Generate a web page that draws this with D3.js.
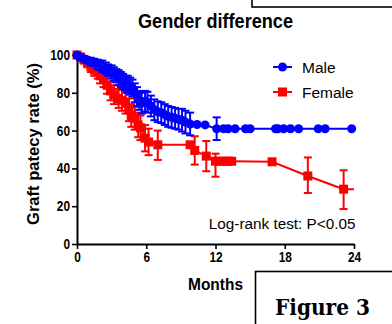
<!DOCTYPE html>
<html>
<head>
<meta charset="utf-8">
<script src="https://cdn.jsdelivr.net/npm/d3@7"></script>
<style>
  html, body { margin: 0; padding: 0; background: #fff; }
  svg { display: block; }
</style>
</head>
<body>
<svg id="chart" width="392" height="324"></svg>
<script>
// ---------------- DATA ----------------
const titleText = "Gender difference";
const xLabel = "Months";
const yLabel = "Graft patecy rate (%)";
const xTicks = [0, 6, 12, 18, 24];
const yTicks = [0, 20, 40, 60, 80, 100];
const seriesNames = ["Male", "Female"];
const annotation = "Log-rank test: P<0.05";
const figureLabel = "Figure 3";

const maleMonths = [0, 0.2, 0.4, 0.6, 0.8, 1.0, 1.2, 1.5, 1.8, 2.0, 2.2, 2.5, 2.7, 3.0, 3.2, 3.4, 3.6, 3.8, 4.0, 4.2, 4.4, 4.6, 4.8, 5.0, 5.2, 5.4, 5.6, 5.9, 6.1, 6.4, 6.7, 7.0, 7.3, 7.6, 7.9, 8.2, 8.5, 8.8, 9.1, 9.4, 9.8, 10.4, 11.1, 12.1, 12.7, 13.1, 13.7, 14.6, 15.0, 17.2, 17.4, 17.9, 18.5, 19.2, 20.9, 21.5, 23.8];
const maleRate   = [100, 99, 98.5, 98, 97.5, 97, 96.5, 96, 95, 94.5, 94, 93, 92, 91, 90, 89, 88, 87, 86, 85, 84.5, 83.5, 82.5, 80, 78, 76, 74.5, 75.5, 75, 73, 71, 70, 69.5, 68.5, 67.5, 67, 66.5, 66, 65.5, 64.5, 63.5, 63.2, 63, 61, 61, 61, 61, 61, 61, 61, 61, 61, 61, 61, 61, 61, 61];
const maleErr    = [0, 0.5, 1, 1, 1.5, 1.5, 2, 2, 2.5, 2.5, 3, 3, 3, 3.5, 3.5, 3.5, 4, 4, 4, 4, 4.5, 4.5, 4.5, 5, 5, 5, 5.5, 5.5, 5.5, 5.5, 5.5, 5.5, 5.5, 5.5, 5.5, 5.5, 5.5, 5.5, 6, 6, 6, 0, 0, 6, 0, 0, 0, 0, 0, 0, 0, 0, 0, 0, 0, 0, 0];

const femaleMonths = [0, 0.3, 0.6, 0.9, 1.2, 1.5, 1.8, 2.0, 2.3, 2.6, 2.9, 3.2, 3.6, 3.9, 4.2, 4.5, 4.7, 5.0, 5.3, 5.5, 5.9, 6.2, 7.0, 9.8, 10.2, 11.2, 12.0, 12.4, 12.8, 13.1, 13.4, 16.9, 20.0, 23.1, 24];
const femaleRate   = [100, 99, 97.5, 96, 94, 92, 91, 89, 87, 84, 81, 79, 77, 76, 74.5, 71, 68, 66.5, 63, 61.5, 56, 54, 52.5, 52.5, 49.5, 46.5, 43.8, 43.8, 43.8, 43.8, 43.8, 43.5, 36, 29, 29];
const femaleLower  = [0, 1, 2, 2.5, 3, 3, 3.5, 4, 4, 4.5, 5, 5, 5, 5.5, 5.5, 6, 6, 6, 6.5, 6.5, 7, 7, 8, 0, 7.5, 8, 8.2, 0, 0, 0, 0, 0, 9, 10.5, 0];
const femaleUpper  = [0, 1, 2, 2.5, 3, 3, 3.5, 4, 4, 4.5, 5, 5, 5, 5.5, 5.5, 6, 6, 6, 6.5, 6.5, 7, 7, 7.5, 0, 7.5, 8, 4, 0, 0, 0, 0, 0, 9.8, 10, 0];
const femaleMarker = [1, 1, 1, 1, 1, 1, 1, 1, 1, 1, 1, 1, 1, 1, 1, 1, 1, 1, 1, 1, 1, 1, 1, 1, 1, 1, 1, 1, 1, 1, 1, 1, 1, 1, 0];

// ---------------- DRAW ----------------
const blue = "#0000ff", red = "#ff0000";
const svg = d3.select("#chart");
const font = "Arial, 'Liberation Sans', Helvetica, sans-serif";

const x = d3.scaleLinear().domain([0, 24]).range([77, 354]);
const y = d3.scaleLinear().domain([0, 100]).range([244, 55]);

const male = maleMonths.map((t, i) => ({ t, v: maleRate[i], lo: maleErr[i], hi: maleErr[i], m: 1 }));
const female = femaleMonths.map((t, i) => ({ t, v: femaleRate[i], lo: femaleLower[i], hi: femaleUpper[i], m: femaleMarker[i] }));

// boxes (figure frame fragments)
svg.append("rect").attr("x", 252).attr("y", -5).attr("width", 150).attr("height", 12)
  .attr("fill", "none").attr("stroke", "#000").attr("stroke-width", 1.6);
svg.append("rect").attr("x", 255.5).attr("y", 271.5).attr("width", 150).attr("height", 70)
  .attr("fill", "#fff").attr("stroke", "#000").attr("stroke-width", 1.6);
svg.append("text").attr("x", 275).attr("y", 315)
  .attr("font-family", "'DejaVu Serif', 'Liberation Serif', serif").attr("font-weight", "bold")
  .attr("font-size", 22).attr("textLength", 95).attr("lengthAdjust", "spacingAndGlyphs")
  .text(figureLabel);

// title
svg.append("text").attr("x", 138).attr("y", 28)
  .attr("font-family", font).attr("font-weight", "bold").attr("font-size", 20)
  .attr("textLength", 155).attr("lengthAdjust", "spacingAndGlyphs")
  .text(titleText);

// axes
const yAxis = d3.axisLeft(y).tickValues(yTicks).tickSize(5).tickSizeOuter(0).tickPadding(2);
const xAxis = d3.axisBottom(x).tickValues(xTicks).tickSize(5).tickSizeOuter(0).tickPadding(3);

const gy = svg.append("g").attr("transform", "translate(77,0)").call(yAxis);
const gx = svg.append("g").attr("transform", "translate(0,244)").call(xAxis);
[gx, gy].forEach(g => {
  g.select(".domain").attr("stroke", "#000").attr("stroke-width", 2);
  g.selectAll(".tick line").attr("stroke", "#000").attr("stroke-width", 1.6);
  g.selectAll(".tick text").attr("fill", "#000").attr("font-family", font)
    .attr("font-weight", "bold").attr("font-size", 14)
    .attr("textLength", d => String(d).length * 6.6).attr("lengthAdjust", "spacingAndGlyphs");
});

// axis labels
svg.append("text").attr("x", 188).attr("y", 290)
  .attr("font-family", font).attr("font-weight", "bold").attr("font-size", 17)
  .attr("textLength", 55).attr("lengthAdjust", "spacingAndGlyphs")
  .text(xLabel);
svg.append("text").attr("transform", "translate(39,225) rotate(-90)")
  .attr("font-family", font).attr("font-weight", "bold").attr("font-size", 16)
  .attr("textLength", 162).attr("lengthAdjust", "spacingAndGlyphs")
  .text(yLabel);

// series drawing
function drawSeries(data, color, shape) {
  const g = svg.append("g");
  const line = d3.line().x(d => x(d.t)).y(d => y(d.v));
  g.append("path").datum(data).attr("d", line).attr("fill", "none")
    .attr("stroke", color).attr("stroke-width", 2);
  const eb = data.filter(d => d.lo > 0 || d.hi > 0);
  const cap = 4;
  eb.forEach(d => {
    const cx = x(d.t), y1 = y(d.v + d.hi), y2 = y(d.v - d.lo);
    g.append("line").attr("x1", cx).attr("x2", cx).attr("y1", y1).attr("y2", y2)
      .attr("stroke", color).attr("stroke-width", 2);
    if (d.hi > 0) g.append("line").attr("x1", cx - cap).attr("x2", cx + cap).attr("y1", y1).attr("y2", y1)
      .attr("stroke", color).attr("stroke-width", 2);
    if (d.lo > 0) g.append("line").attr("x1", cx - cap).attr("x2", cx + cap).attr("y1", y2).attr("y2", y2)
      .attr("stroke", color).attr("stroke-width", 2);
  });
  const pts = data.filter(d => d.m);
  if (shape === "circle") {
    g.selectAll("circle.pt").data(pts).join("circle").attr("class", "pt")
      .attr("cx", d => x(d.t)).attr("cy", d => y(d.v)).attr("r", 4.5).attr("fill", color);
  } else {
    g.selectAll("rect.pt").data(pts).join("rect").attr("class", "pt")
      .attr("x", d => x(d.t) - 4.5).attr("y", d => y(d.v) - 4.5)
      .attr("width", 9).attr("height", 9).attr("fill", color);
  }
}
drawSeries(female, red, "square");
drawSeries(male, blue, "circle");

// legend
const legend = [
  { name: seriesNames[0], color: blue, shape: "circle", yy: 67 },
  { name: seriesNames[1], color: red, shape: "square", yy: 92 }
];
legend.forEach(l => {
  svg.append("line").attr("x1", 273).attr("x2", 292).attr("y1", l.yy).attr("y2", l.yy)
    .attr("stroke", l.color).attr("stroke-width", 2);
  if (l.shape === "circle") svg.append("circle").attr("cx", 282.5).attr("cy", l.yy).attr("r", 4.5).attr("fill", l.color);
  else svg.append("rect").attr("x", 278).attr("y", l.yy - 4.5).attr("width", 9).attr("height", 9).attr("fill", l.color);
  svg.append("text").attr("x", 302).attr("y", l.yy + 5.5).attr("font-family", font)
    .attr("font-size", 15.5).attr("fill", "#000").text(l.name);
});

// annotation
svg.append("text").attr("x", 355.5).attr("y", 229).attr("text-anchor", "end")
  .attr("font-family", font).attr("font-size", 15.3).attr("fill", "#000").text(annotation);
</script>
</body>
</html>
